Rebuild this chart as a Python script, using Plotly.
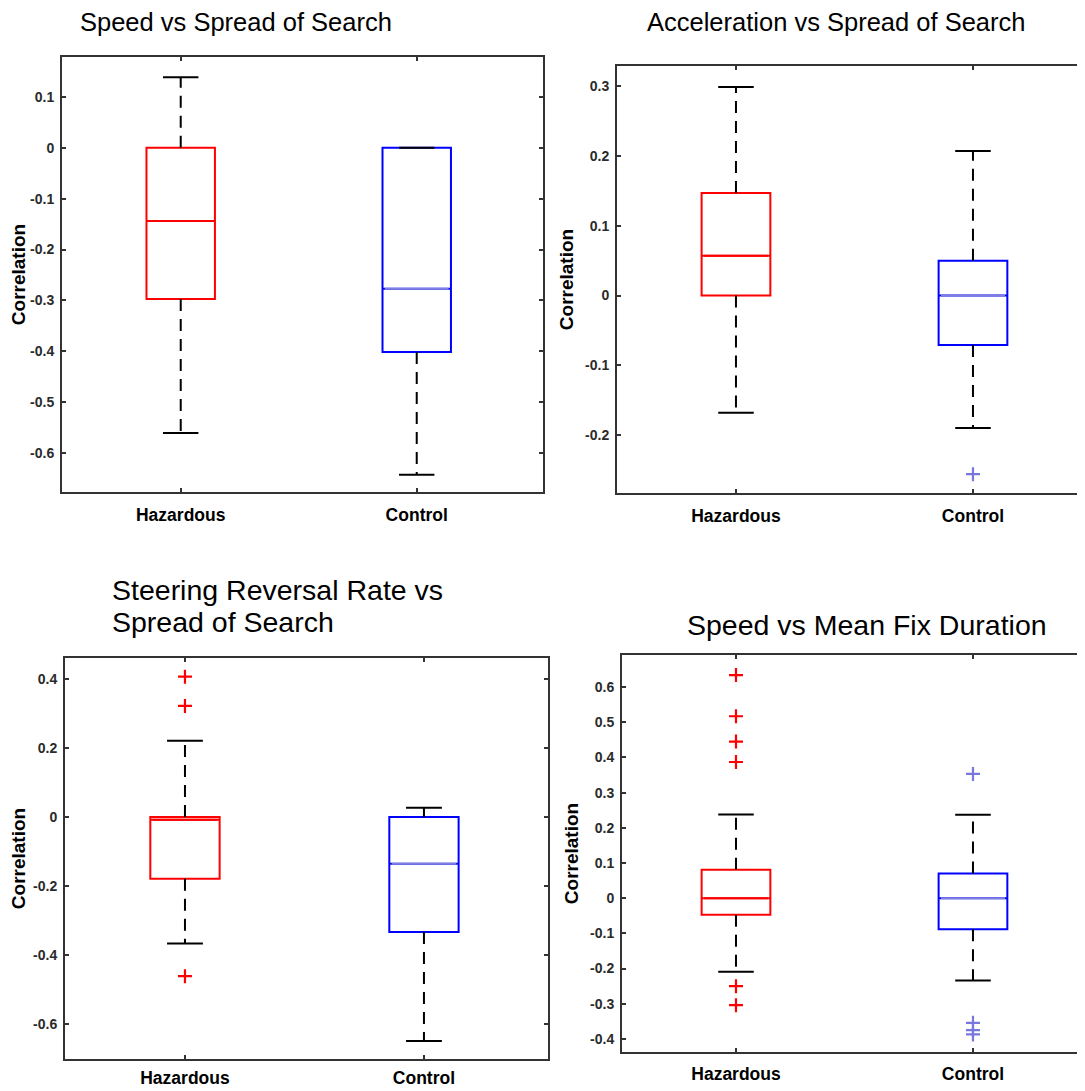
import plotly.graph_objects as go

W, H = 1085, 1091
OFF = 8  # page body margin in the browser

groups = ["Hazardous", "Control"]
positions = [1, 2]
box_colors = ["#ff0000", "#0000ff"]
median_colors = ["#ff0000", "#7f7fe0"]
outlier_colors = ["#ff0000", "#7777dd"]

# Panel 1: Speed vs Spread of Search
p1_title = ["Speed vs Spread of Search"]
p1_q1 = [-0.297, -0.401]
p1_med = [-0.144, -0.277]
p1_q3 = [0.000, 0.000]
p1_lo = [-0.560, -0.642]
p1_hi = [0.138, 0.000]
p1_out = [[], []]
p1_ticks = [-0.6, -0.5, -0.4, -0.3, -0.2, -0.1, 0, 0.1]
p1_ticktext = ["-0.6", "-0.5", "-0.4", "-0.3", "-0.2", "-0.1", "0", "0.1"]

# Panel 2: Acceleration vs Spread of Search
p2_title = ["Acceleration vs Spread of Search"]
p2_q1 = [0.000, -0.071]
p2_med = [0.057, 0.000]
p2_q3 = [0.147, 0.050]
p2_lo = [-0.168, -0.190]
p2_hi = [0.299, 0.207]
p2_out = [[], [-0.256]]
p2_ticks = [-0.2, -0.1, 0, 0.1, 0.2, 0.3]
p2_ticktext = ["-0.2", "-0.1", "0", "0.1", "0.2", "0.3"]

# Panel 3: Steering Reversal Rate vs Spread of Search
p3_title = ["Steering Reversal Rate vs", "Spread of Search"]
p3_q1 = [-0.179, -0.333]
p3_med = [-0.008, -0.135]
p3_q3 = [0.000, 0.000]
p3_lo = [-0.366, -0.649]
p3_hi = [0.221, 0.027]
p3_out = [[0.407, 0.322, -0.461], []]
p3_ticks = [-0.6, -0.4, -0.2, 0, 0.2, 0.4]
p3_ticktext = ["-0.6", "-0.4", "-0.2", "0", "0.2", "0.4"]

# Panel 4: Speed vs Mean Fix Duration
p4_title = ["Speed vs Mean Fix Duration"]
p4_q1 = [-0.047, -0.088]
p4_med = [0.000, 0.000]
p4_q3 = [0.081, 0.070]
p4_lo = [-0.209, -0.234]
p4_hi = [0.238, 0.237]
p4_out = [[0.634, 0.517, 0.445, 0.387, -0.250, -0.304], [0.353, -0.354, -0.375, -0.387]]
p4_ticks = [-0.4, -0.3, -0.2, -0.1, 0, 0.1, 0.2, 0.3, 0.4, 0.5, 0.6]
p4_ticktext = ["-0.4", "-0.3", "-0.2", "-0.1", "0", "0.1", "0.2", "0.3", "0.4", "0.5", "0.6"]

panels = [
    dict(title=p1_title, q1=p1_q1, med=p1_med, q3=p1_q3, lo=p1_lo, hi=p1_hi, out=p1_out,
         ticks=p1_ticks, ticktext=p1_ticktext,
         px_x=(62, 543), px_y=(57, 492), xr=(0.497, 2.535), yr=(-0.676, 0.178),
         title_px=[(78, 22)], title_size=25.5, xstand=6),
    dict(title=p2_title, q1=p2_q1, med=p2_med, q3=p2_q3, lo=p2_lo, hi=p2_hi, out=p2_out,
         ticks=p2_ticks, ticktext=p2_ticktext,
         px_x=(617, 1091), px_y=(66, 493), xr=(0.498, 2.498), yr=(-0.283, 0.329),
         title_px=[(645, 22)], title_size=25.5, xstand=6),
    dict(title=p3_title, q1=p3_q1, med=p3_med, q3=p3_q3, lo=p3_lo, hi=p3_hi, out=p3_out,
         ticks=p3_ticks, ticktext=p3_ticktext,
         px_x=(65, 548), px_y=(658, 1059), xr=(0.498, 2.519), yr=(-0.701, 0.461),
         title_px=[(110, 590), (110, 622)], title_size=28.5, xstand=2),
    dict(title=p4_title, q1=p4_q1, med=p4_med, q3=p4_q3, lo=p4_lo, hi=p4_hi, out=p4_out,
         ticks=p4_ticks, ticktext=p4_ticktext,
         px_x=(622, 1091), px_y=(655, 1052), xr=(0.519, 2.498), yr=(-0.437, 0.691),
         title_px=[(685, 625)], title_size=28.5, xstand=5),
]


def fx(px):
    return (px - OFF) / W


def fy(py):
    return 1 - (py - OFF) / H


BOX_W = 0.29
CAP_HALF = 0.075
AXIS_COLOR = "#333333"
FONT = "Liberation Sans, Arial"
TICK_FONT = dict(family=FONT, size=14, color="#2a2a2a", weight="bold")

fig = go.Figure()
layout = dict(
    width=W, height=H, margin=dict(l=0, r=0, t=0, b=0),
    paper_bgcolor="white", plot_bgcolor="white", showlegend=False,
    annotations=[],
)

for i, p in enumerate(panels):
    n = i + 1
    xa = "x" if n == 1 else f"x{n}"
    ya = "y" if n == 1 else f"y{n}"
    xkey = "xaxis" if n == 1 else f"xaxis{n}"
    ykey = "yaxis" if n == 1 else f"yaxis{n}"

    for g in range(2):
        pos = positions[g]
        # dashed whiskers
        fig.add_trace(go.Scatter(
            x=[pos, pos, None, pos, pos],
            y=[p["q3"][g], p["hi"][g], None, p["q1"][g], p["lo"][g]],
            mode="lines", line=dict(color="black", width=2, dash="12px,8px"),
            xaxis=xa, yaxis=ya, hoverinfo="skip"))
        # whisker caps
        fig.add_trace(go.Scatter(
            x=[pos - CAP_HALF, pos + CAP_HALF, None, pos - CAP_HALF, pos + CAP_HALF],
            y=[p["hi"][g], p["hi"][g], None, p["lo"][g], p["lo"][g]],
            mode="lines", line=dict(color="black", width=2),
            xaxis=xa, yaxis=ya, hoverinfo="skip"))
        # box
        fig.add_trace(go.Box(
            x=[pos], q1=[p["q1"][g]], median=[p["med"][g]], q3=[p["q3"][g]],
            lowerfence=[p["q1"][g]], upperfence=[p["q3"][g]],
            width=BOX_W, whiskerwidth=0,
            line=dict(color=box_colors[g], width=2),
            fillcolor="rgba(0,0,0,0)", boxpoints=False,
            xaxis=xa, yaxis=ya, name=groups[g], hoverinfo="skip"))
        # median line (own colour)
        fig.add_trace(go.Scatter(
            x=[pos - BOX_W / 2 + 0.01, pos + BOX_W / 2 - 0.01],
            y=[p["med"][g], p["med"][g]],
            mode="lines", line=dict(color=median_colors[g], width=2),
            xaxis=xa, yaxis=ya, hoverinfo="skip"))
        # outliers
        if p["out"][g]:
            fig.add_trace(go.Scatter(
                x=[pos] * len(p["out"][g]), y=p["out"][g], mode="markers",
                marker=dict(symbol="cross-thin", size=10,
                            line=dict(color=outlier_colors[g], width=2.2)),
                xaxis=xa, yaxis=ya, hoverinfo="skip"))

    x0, x1 = p["px_x"]
    y0, y1 = p["px_y"]
    layout[xkey] = dict(
        domain=[fx(x0), min(fx(x1), 1.0)], range=list(p["xr"]), anchor=ya,
        tickvals=positions, ticktext=groups,
        tickfont=dict(family=FONT, size=17.5, color="black", weight="bold"),
        ticks="inside", ticklen=4, tickwidth=1.5, tickcolor=AXIS_COLOR,
        showline=True, linecolor=AXIS_COLOR, linewidth=2, mirror="ticks",
        showgrid=False, zeroline=False, ticklabelstandoff=p["xstand"],
    )
    layout[ykey] = dict(
        domain=[fy(y1), fy(y0)], range=list(p["yr"]), anchor=xa,
        tickvals=p["ticks"], ticktext=p["ticktext"], tickfont=TICK_FONT,
        ticks="inside", ticklen=4, tickwidth=1.5, tickcolor=AXIS_COLOR,
        showline=True, linecolor=AXIS_COLOR, linewidth=2, mirror="ticks",
        showgrid=False, zeroline=False, ticklabelstandoff=3,
        title=dict(text="Correlation", standoff=6,
                   font=dict(family=FONT, size=19, color="black", weight="bold")),
    )
    for line_text, (tx, ty) in zip(p["title"], p["title_px"]):
        layout["annotations"].append(dict(
            text=line_text, xref="paper", yref="paper", x=fx(tx), y=fy(ty),
            xanchor="left", yanchor="middle", showarrow=False,
            font=dict(family=FONT, size=p["title_size"], color="black")))

fig.update_layout(**layout)
fig.write_html("out.html")
